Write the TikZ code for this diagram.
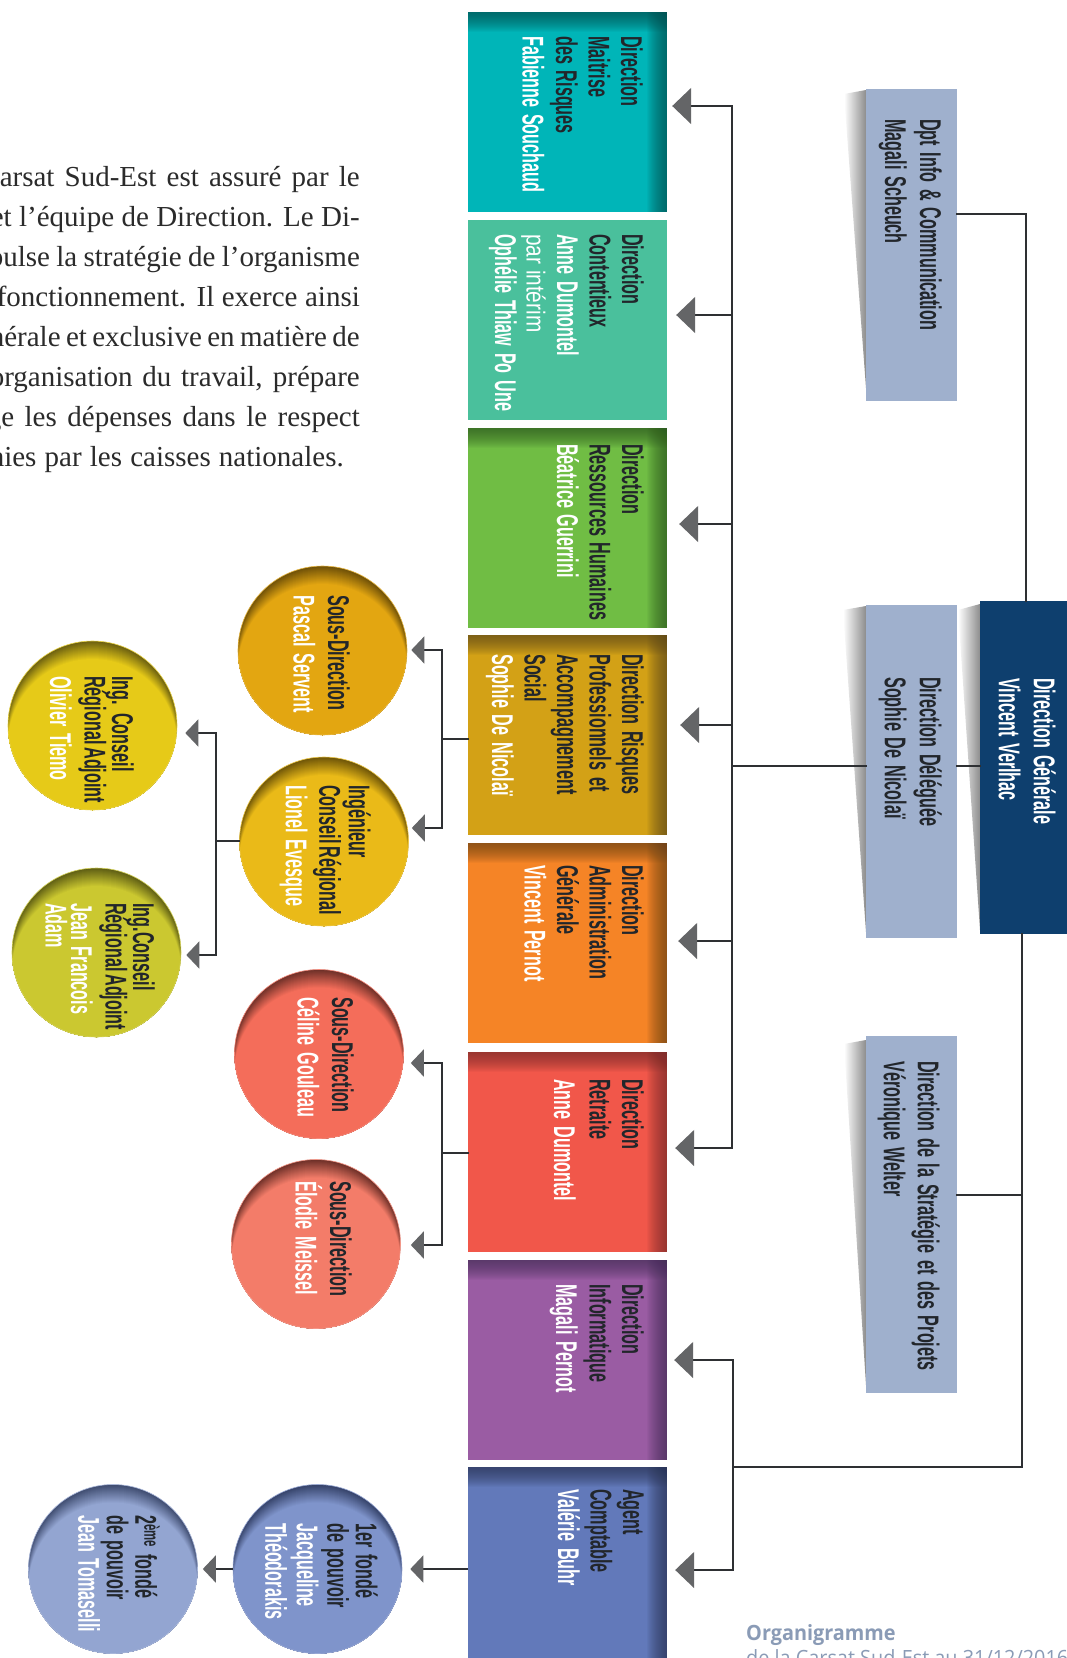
\documentclass[tikz,border=0pt]{standalone}
\usepackage{fontspec}
\setmainfont{Liberation Serif}
\newfontfamily\cond[FakeStretch=0.54,WordSpace=1.5]{Liberation Sans Bold}
\newfontfamily\condl[FakeStretch=0.8]{Liberation Sans}
\newfontfamily\capt[FakeStretch=0.945]{Open Sans}
\usetikzlibrary{arrows.meta,calc}
\definecolor{linec}{HTML}{2E3033}
\definecolor{arrowc}{HTML}{646567}
\definecolor{txtd}{HTML}{22262B}
\definecolor{bodyc}{HTML}{2B2B2B}
\definecolor{captc}{HTML}{8A9BB6}
\definecolor{sidec}{HTML}{9FB0CD}
\definecolor{dgc}{HTML}{0E3F6E}
\definecolor{bA}{HTML}{00B5B8}\definecolor{dA}{HTML}{004F50}
\definecolor{bB}{HTML}{4AC09C}
\definecolor{bC}{HTML}{70BD44}\definecolor{dC}{HTML}{2F5A20}
\definecolor{bD}{HTML}{D3A116}\definecolor{dD}{HTML}{5E4A18}
\definecolor{bE}{HTML}{F58426}\definecolor{dE}{HTML}{6A4518}
\definecolor{bF}{HTML}{F1574A}\definecolor{dF}{HTML}{7A2E2C}
\definecolor{bG}{HTML}{9A5CA3}\definecolor{dG}{HTML}{46305A}
\definecolor{bH}{HTML}{6279BA}\definecolor{dH}{HTML}{2B3555}
\definecolor{cA}{HTML}{E3A611}\definecolor{eA}{HTML}{6E5008}
\definecolor{cB}{HTML}{EABA18}\definecolor{eB}{HTML}{6E5508}
\definecolor{cC}{HTML}{E6CA18}\definecolor{eC}{HTML}{6B5F10}
\definecolor{cD}{HTML}{CBC830}\definecolor{eD}{HTML}{5F5E14}
\definecolor{cE}{HTML}{F46D5A}\definecolor{eE}{HTML}{6E3028}
\definecolor{cF}{HTML}{F37C69}\definecolor{eF}{HTML}{6E3028}
\definecolor{cG}{HTML}{7F94CB}\definecolor{eG}{HTML}{36436A}
\definecolor{cH}{HTML}{93A5D1}\definecolor{eH}{HTML}{3F4C70}
\newcommand{\dk}[1]{\textcolor{txtd}{#1}}
\newcommand{\wh}[1]{\textcolor{white}{#1}}
\newcommand{\jline}[2]{\hbox to #1pt{\spaceskip=0.25em plus 0.3em minus 0.2em\relax #2}}
\tikzset{
  x=1pt, y=-1pt,
  rectbase/.style={rectangle, draw=none, inner sep=0pt, minimum width=199pt},
  recta/.style={rectbase, fill=#1, minimum height=200pt},
  stripped/.style 2 args={rectbase, fill=#1, minimum height=200pt, path picture={
    \foreach \i in {1,...,20} {
      \fill[#2, opacity=.055] (path picture bounding box.north west) rectangle ([yshift=-\i pt]path picture bounding box.north east);
      \fill[#2, opacity=.055] ([xshift=-\i pt]path picture bounding box.north east) rectangle (path picture bounding box.south east);
    }
  }},
  crc/.style 2 args={circle, inner sep=0pt, minimum size=169pt, draw=#1!80!white, line width=.6pt, fill=#2, path picture={
    \foreach \i in {1,...,18} {
      \pgfmathsetmacro\mixv{min(100,\i*5.56)}
      \fill[#1!\mixv!#2] ([yshift=-\i pt]path picture bounding box.center) circle[radius=84.5pt];
    }
  }},
  sideb/.style={rectangle, draw=none, inner sep=0pt, fill=sidec, minimum width=91pt},
  shad/.style={left color=white, right color=black!45},
  lbl/.style={rotate=-90, anchor=north west, align=left, inner sep=0pt, font=\cond\fontsize{30}{32.5}\selectfont},
  lbls/.style={lbl, font=\cond\fontsize{30}{35}\selectfont},
  para/.style={anchor=base east, inner sep=0pt, text=bodyc, font=\fontsize{29}{29}\selectfont},
  conn/.style={draw=linec, line width=1.7pt, line cap=rect},
  conb/.style={draw=linec, line width=2.6pt, line cap=rect},
  arr/.style={draw=linec, line width=1.7pt, -{Triangle[length=19pt,width=36pt,color=arrowc,fill=arrowc]}},
  ars/.style={draw=linec, line width=1.7pt, -{Triangle[length=13pt,width=27pt,color=arrowc,fill=arrowc]}},
}
\begin{document}
\begin{tikzpicture}
\useasboundingbox (0,0) rectangle (1067,1658);
\fill[white] (0,0) rectangle (1067,1658);

% soft shadows left of the side boxes
\shade[shad] (844,94) -- (866,90) -- (866,388) -- cycle;
\shade[shad] (843,610) -- (866,606) -- (866,932) -- cycle;
\shade[shad] (844,1044) -- (866,1040) -- (866,1385) -- cycle;
\shade[shad] (958,610) -- (980,604) -- (980,930) -- cycle;

% paragraph
\node[para] (p1) at (360,186) {\jline{360}{arsat Sud-Est est assuré par le}};
\node[para] (p2) at (360,226) {\jline{369}{et l’équipe de Direction. Le Di-}};
\node[para] (p3) at (360,266) {\jline{371}{pulse la stratégie de l’organisme}};
\node[para] (p4) at (360,306) {\jline{363}{fonctionnement. Il exerce ainsi}};
\node[para] (p5) at (360,346) {\jline{370}{nérale et exclusive en matière de}};
\node[para] (p6) at (360,386) {\jline{370}{organisation du travail, prépare}};
\node[para] (p7) at (360,426) {\jline{373}{ge les dépenses dans le respect}};
\node[para] (p8) at (344,466) {\jline{354}{nies par les caisses nationales.}};

% main column
\node[stripped={bA}{dA}] (b1) at (567.5,112) {};
\node[recta=bB] (b2) at (567.5,320) {};
\node[stripped={bC}{dC}] (b3) at (567.5,528) {};
\node[stripped={bD}{dD}] (b4) at (567.5,735) {};
\node[stripped={bE}{dE}] (b5) at (567.5,943) {};
\node[stripped={bF}{dF}] (b6) at (567.5,1151.5) {};
\node[stripped={bG}{dG}] (b7) at (567.5,1360) {};
\node[stripped={bH}{dH}, minimum height=400pt] (b8) at (567.5,1667) {};

\node[lbl] (t1) at (643,36) {\dk{Direction}\\\dk{Maitrise}\\\dk{des Risques}\\[1pt]\wh{Fabienne Souchaud}};
\node[lbl] (t2) at (644,234) {\dk{Direction}\\\dk{Contentieux}\\\wh{Anne Dumontel}\\[-2pt]{\condl\fontsize{26}{30}\selectfont\wh{par intérim}}\\[-1pt]\wh{Ophélie Thiaw Po Une}};
\node[lbl] (t3) at (644,444) {\dk{Direction}\\\dk{Ressources Humaines}\\\wh{Béatrice Guerrini}};
\node[lbl] (t4) at (644,654) {\dk{Direction Risques}\\\dk{Professionnels et}\\\dk{Accompagnement}\\\dk{Social}\\\wh{Sophie De Nicolaï}};
\node[lbl] (t5) at (644,865) {\dk{Direction}\\\dk{Administration}\\\dk{Générale}\\\wh{Vincent Pernot}};
\node[lbl] (t6) at (644,1079) {\dk{Direction}\\\dk{Retraite}\\[3pt]\wh{Anne Dumontel}};
\node[lbl] (t7) at (644,1284) {\dk{Direction}\\\dk{Informatique}\\[1pt]\wh{Magali Pernot}};
\node[lbl] (t8) at (644,1489) {\dk{Agent}\\\dk{Comptable}\\\wh{Valérie Buhr}};

% circles
\node[crc={cA}{eA}] (c1) at (322.5,650.5) {};
\node[crc={cB}{eB}] (c2) at (324,841.5) {};
\node[crc={cC}{eC}] (c3) at (92.5,725.5) {};
\node[crc={cD}{eD}] (c4) at (96.5,952.5) {};
\node[crc={cE}{eE}] (c5) at (319,1054) {};
\node[crc={cF}{eF}] (c6) at (316,1244) {};
\node[crc={cG}{eG}] (c7) at (317.5,1569) {};
\node[crc={cH}{eH}] (c8) at (113,1569) {};

\node[lbl] (tc1) at (350,595) {\dk{Sous-Direction}\\[2pt]\wh{Pascal Servent}};
\node[lbl] (tc2) at (371,785) {\dk{Ingénieur}\\[-3pt]\dk{Conseil\hspace{-4pt} Régional}\\[1pt]\wh{Lionel Evesque}};
\node[lbl] (tc3) at (134,676) {\dk{Ing. Conseil}\\[-5pt]\dk{Régional\hspace{-4pt} Adjoint}\\[2pt]\wh{Olivier Tiemo}};
\node[lbl] (tc4) at (155,903) {\dk{Ing.Conseil}\\[-5pt]\dk{Régional\hspace{-4pt} Adjoint}\\[2pt]\wh{Jean Francois}\\[-7pt]\wh{Adam}};
\node[lbl] (tc5) at (354,997) {\dk{Sous-Direction}\\[2pt]\wh{Céline Gouleau}};
\node[lbl] (tc6) at (352,1181) {\dk{Sous-Direction}\\[2pt]\wh{Élodie Meissel}};
\node[lbl] (tc7) at (378,1523) {\dk{1er fondé}\\[-4pt]\dk{de pouvoir}\\[-2pt]\wh{Jacqueline}\\[-1pt]\wh{Théodorakis}};
\node[lbl] (tc8) at (160,1515) {\dk{2\textsuperscript{ème} fondé}\\[-4pt]\dk{de pouvoir}\\[-4pt]\wh{Jean Tomaselli}};

% side boxes
\node[sideb, minimum height=312pt] (s1) at (911.5,245) {};
\node[sideb, minimum height=333pt] (s2) at (911.5,771.5) {};
\node[sideb, minimum height=357pt] (s3) at (911.5,1214.5) {};
\node[rectangle, draw=none, inner sep=0pt, fill=dgc, minimum width=87pt, minimum height=333pt] (dg) at (1023.5,767.5) {};

\node[lbls] (ts1) at (942,119) {\dk{Dpt Info \& Communication}\\\dk{Magali Scheuch}};
\node[lbls] (ts2) at (942,677) {\dk{Direction Déléguée}\\\dk{Sophie De Nicolaï}};
\node[lbls] (ts3) at (940,1061) {\dk{Direction de la Stratégie et des Projets}\\[-1pt]\dk{Véronique Welter}};
\node[lbls] (tdg) at (1056,678) {\wh{Direction Générale}\\\wh{Vincent Verlhac}};

% junctions
\coordinate (j1) at (732,106);
\coordinate (j2) at (732,315);
\coordinate (j3) at (732,524);
\coordinate (j4) at (732,725);
\coordinate (jm) at (732,766);
\coordinate (j5) at (732,941);
\coordinate (j6) at (732,1148);
\coordinate (j7) at (733,1360);
\coordinate (jb) at (733,1467);
\coordinate (j8) at (733,1570);
\coordinate (k1) at (1026,214);
\coordinate (k2) at (1022,1467);
\coordinate (k3) at (1022,1195);
\coordinate (la) at (442,650);
\coordinate (lb) at (442,828);
\coordinate (lm) at (442,739);
\coordinate (ma) at (216,733);
\coordinate (mb) at (216,955);
\coordinate (mm) at (216,841);
\coordinate (na) at (442,1063);
\coordinate (nb) at (442,1245);
\coordinate (nm) at (442,1153);

% connectors
\draw[conn] (j1) -- (j6);
\draw[conn] (j7) -- (j8);
\draw[arr, shorten >=5pt] (j1) -- (b1.east |- j1);
\draw[arr, shorten >=9pt] (j2) -- (b2.east |- j2);
\draw[arr, shorten >=12pt] (j3) -- (b3.east |- j3);
\draw[arr, shorten >=13pt] (j4) -- (b4.east |- j4);
\draw[arr, shorten >=11pt] (j5) -- (b5.east |- j5);
\draw[arr, shorten >=8pt] (j6) -- (b6.east |- j6);
\draw[arr, shorten >=7pt] (j7) -- (b7.east |- j7);
\draw[arr, shorten >=8pt] (j8) -- (b8.east |- j8);
\draw[conn] (s2.west |- jm) -- (jm);
\draw[conn] (dg.west |- jm) -- (s2.east |- jm);
\draw[conb] (s1.east |- k1) -- (k1) -- (k1 |- dg.north);
\draw[conb] (k2 |- dg.south) -- (k2) -- (jb);
\draw[conb] (s3.east |- k3) -- (k3);

\draw[conn] (la) -- (lb);
\draw[conn] (b4.west |- lm) -- (lm);
\draw[ars, shorten >=4pt] (la) -- (c1.east |- la);
\draw[ars, shorten >=3pt] (lb) -- (c2.east |- lb);
\draw[conn] (ma) -- (mb);
\draw[conn] (c2.west |- mm) -- (mm);
\draw[ars, shorten >=8pt] (ma) -- (c3.east |- ma);
\draw[ars, shorten >=5pt] (mb) -- (c4.east |- mb);
\draw[conn] (na) -- (nb);
\draw[conn] (b6.west |- nm) -- (nm);
\draw[ars, shorten >=7pt] (na) -- (c5.east |- na);
\draw[ars, shorten >=10pt] (nb) -- (c6.east |- nb);
\draw[ars, shorten >=8pt] (b8.west |- c7) -- (c7.east);
\draw[ars, shorten >=5pt] (c7.west) -- (c8.east);

% caption
\node[anchor=base west, inner sep=0pt, text=captc, font=\capt\bfseries\fontsize{21}{21}\selectfont] (cap1) at (746,1640) {Organigramme};
\node[anchor=base west, inner sep=0pt, text=captc, font=\capt\fontsize{21}{21}\selectfont] (cap2) at (746,1665) {de la Carsat Sud-Est au 31/12/2016};
\end{tikzpicture}
\end{document}
